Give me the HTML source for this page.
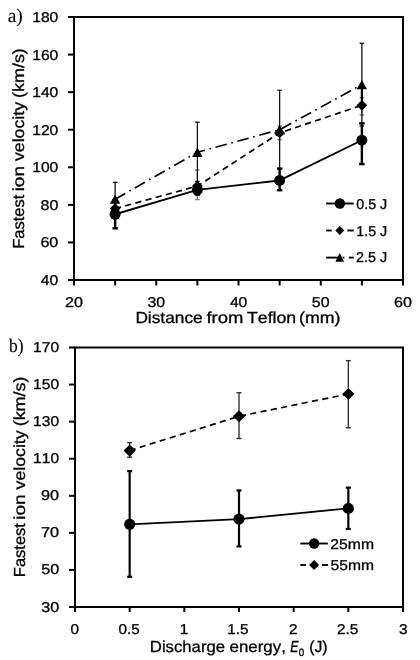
<!DOCTYPE html>
<html><head><meta charset="utf-8"><style>
html,body{margin:0;padding:0;background:#fff;}
svg{display:block;filter:grayscale(1);}
text{fill:#000;font-kerning:none;text-rendering:geometricPrecision;stroke:#000;stroke-width:0.3px;}
</style></head><body>
<svg width="420" height="660" viewBox="0 0 420 660">
<rect width="420" height="660" fill="#fff"/>
<rect x="74" y="17" width="329" height="263" fill="none" stroke="#000" stroke-width="2"/>
<line x1="68" y1="280" x2="74" y2="280" stroke="#000" stroke-width="2" />
<text transform="translate(40.84,285) scale(1.1063,1)" font-size="14.2" font-family="Liberation Sans, sans-serif" >40</text>
<line x1="68" y1="242.43" x2="74" y2="242.43" stroke="#000" stroke-width="2" />
<text transform="translate(40.38,247.43) scale(1.1364,1)" font-size="14.2" font-family="Liberation Sans, sans-serif" >60</text>
<line x1="68" y1="204.86" x2="74" y2="204.86" stroke="#000" stroke-width="2" />
<text transform="translate(40.5,209.86) scale(1.1284,1)" font-size="14.2" font-family="Liberation Sans, sans-serif" >80</text>
<line x1="68" y1="167.29" x2="74" y2="167.29" stroke="#000" stroke-width="2" />
<text transform="translate(32.21,172.29) scale(1.1018,1)" font-size="14.2" font-family="Liberation Sans, sans-serif" >100</text>
<line x1="68" y1="129.71" x2="74" y2="129.71" stroke="#000" stroke-width="2" />
<text transform="translate(32.21,134.71) scale(1.1018,1)" font-size="14.2" font-family="Liberation Sans, sans-serif" >120</text>
<line x1="68" y1="92.14" x2="74" y2="92.14" stroke="#000" stroke-width="2" />
<text transform="translate(32.21,97.14) scale(1.1018,1)" font-size="14.2" font-family="Liberation Sans, sans-serif" >140</text>
<line x1="68" y1="54.57" x2="74" y2="54.57" stroke="#000" stroke-width="2" />
<text transform="translate(32.21,59.57) scale(1.1018,1)" font-size="14.2" font-family="Liberation Sans, sans-serif" >160</text>
<line x1="68" y1="17" x2="74" y2="17" stroke="#000" stroke-width="2" />
<text transform="translate(32.21,22) scale(1.1018,1)" font-size="14.2" font-family="Liberation Sans, sans-serif" >180</text>
<line x1="74" y1="280" x2="74" y2="285.5" stroke="#000" stroke-width="2" />
<text transform="translate(64.94,306.8) scale(1.1359,1)" font-size="14.2" font-family="Liberation Sans, sans-serif" >20</text>
<line x1="115.12" y1="280" x2="115.12" y2="285.5" stroke="#000" stroke-width="2" />
<line x1="156.25" y1="280" x2="156.25" y2="285.5" stroke="#000" stroke-width="2" />
<text transform="translate(147.39,306.8) scale(1.1225,1)" font-size="14.2" font-family="Liberation Sans, sans-serif" >30</text>
<line x1="197.38" y1="280" x2="197.38" y2="285.5" stroke="#000" stroke-width="2" />
<line x1="238.5" y1="280" x2="238.5" y2="285.5" stroke="#000" stroke-width="2" />
<text transform="translate(229.89,306.8) scale(1.1063,1)" font-size="14.2" font-family="Liberation Sans, sans-serif" >40</text>
<line x1="279.62" y1="280" x2="279.62" y2="285.5" stroke="#000" stroke-width="2" />
<line x1="320.75" y1="280" x2="320.75" y2="285.5" stroke="#000" stroke-width="2" />
<text transform="translate(311.86,306.8) scale(1.1246,1)" font-size="14.2" font-family="Liberation Sans, sans-serif" >50</text>
<line x1="361.88" y1="280" x2="361.88" y2="285.5" stroke="#000" stroke-width="2" />
<line x1="403" y1="280" x2="403" y2="285.5" stroke="#000" stroke-width="2" />
<text transform="translate(393.93,306.8) scale(1.1364,1)" font-size="14.2" font-family="Liberation Sans, sans-serif" >60</text>
<line x1="115.12" y1="201.1" x2="115.12" y2="216.13" stroke="#777" stroke-width="1.3" />
<line x1="112.88" y1="201.1" x2="117.38" y2="201.1" stroke="#777" stroke-width="1.3" />
<line x1="112.88" y1="216.13" x2="117.38" y2="216.13" stroke="#777" stroke-width="1.3" />
<line x1="197.38" y1="169.92" x2="197.38" y2="199.6" stroke="#777" stroke-width="1.3" />
<line x1="195.12" y1="169.92" x2="199.62" y2="169.92" stroke="#777" stroke-width="1.3" />
<line x1="195.12" y1="199.6" x2="199.62" y2="199.6" stroke="#777" stroke-width="1.3" />
<line x1="279.62" y1="125.96" x2="279.62" y2="139.67" stroke="#777" stroke-width="1.3" />
<line x1="277.38" y1="125.96" x2="281.88" y2="125.96" stroke="#777" stroke-width="1.3" />
<line x1="277.38" y1="139.67" x2="281.88" y2="139.67" stroke="#777" stroke-width="1.3" />
<line x1="361.88" y1="97.78" x2="361.88" y2="115.06" stroke="#777" stroke-width="1.3" />
<line x1="359.62" y1="97.78" x2="364.12" y2="97.78" stroke="#777" stroke-width="1.3" />
<line x1="359.62" y1="115.06" x2="364.12" y2="115.06" stroke="#777" stroke-width="1.3" />
<line x1="115.12" y1="182.31" x2="115.12" y2="216.13" stroke="#111" stroke-width="1.3" />
<line x1="112.88" y1="182.31" x2="117.38" y2="182.31" stroke="#111" stroke-width="1.3" />
<line x1="112.88" y1="216.13" x2="117.38" y2="216.13" stroke="#111" stroke-width="1.3" />
<line x1="197.38" y1="122.2" x2="197.38" y2="181.38" stroke="#111" stroke-width="1.3" />
<line x1="195.12" y1="122.2" x2="199.62" y2="122.2" stroke="#111" stroke-width="1.3" />
<line x1="195.12" y1="181.38" x2="199.62" y2="181.38" stroke="#111" stroke-width="1.3" />
<line x1="279.62" y1="90.26" x2="279.62" y2="169.16" stroke="#111" stroke-width="1.3" />
<line x1="277.38" y1="90.26" x2="281.88" y2="90.26" stroke="#111" stroke-width="1.3" />
<line x1="277.38" y1="169.16" x2="281.88" y2="169.16" stroke="#111" stroke-width="1.3" />
<line x1="361.88" y1="43.3" x2="361.88" y2="125.96" stroke="#111" stroke-width="1.3" />
<line x1="359.62" y1="43.3" x2="364.12" y2="43.3" stroke="#111" stroke-width="1.3" />
<line x1="359.62" y1="125.96" x2="364.12" y2="125.96" stroke="#111" stroke-width="1.3" />
<line x1="361.88" y1="89" x2="361.88" y2="101" stroke="#000" stroke-width="2.2" />
<line x1="115.12" y1="200.16" x2="115.12" y2="228.34" stroke="#000" stroke-width="2.4" />
<line x1="112.38" y1="200.16" x2="117.88" y2="200.16" stroke="#000" stroke-width="2.4" />
<line x1="112.38" y1="228.34" x2="117.88" y2="228.34" stroke="#000" stroke-width="2.4" />
<line x1="197.38" y1="185.13" x2="197.38" y2="194.53" stroke="#000" stroke-width="2.4" />
<line x1="194.62" y1="185.13" x2="200.12" y2="185.13" stroke="#000" stroke-width="2.4" />
<line x1="194.62" y1="194.53" x2="200.12" y2="194.53" stroke="#000" stroke-width="2.4" />
<line x1="279.62" y1="168.6" x2="279.62" y2="190.2" stroke="#000" stroke-width="2.4" />
<line x1="276.88" y1="168.6" x2="282.38" y2="168.6" stroke="#000" stroke-width="2.4" />
<line x1="276.88" y1="190.2" x2="282.38" y2="190.2" stroke="#000" stroke-width="2.4" />
<line x1="361.88" y1="123.33" x2="361.88" y2="164.09" stroke="#000" stroke-width="2.4" />
<line x1="359.12" y1="123.33" x2="364.62" y2="123.33" stroke="#000" stroke-width="2.4" />
<line x1="359.12" y1="164.09" x2="364.62" y2="164.09" stroke="#000" stroke-width="2.4" />
<polyline points="115.12,199.22 197.38,152.26 279.62,129.71 361.88,84.63" fill="none" stroke="#000" stroke-width="1.7" stroke-dasharray="11.7 4.7 1.6 4.7" stroke-linejoin="round"/>
<polyline points="115.12,208.61 197.38,186.07 279.62,132.91 361.88,105.29" fill="none" stroke="#000" stroke-width="1.7" stroke-dasharray="6.2 4.3" stroke-linejoin="round"/>
<polyline points="115.12,214.25 197.38,189.83 279.62,180.44 361.88,140.23" fill="none" stroke="#000" stroke-width="1.9" stroke-linejoin="round"/>
<path d="M115.12 194.57L120.38 203.87L109.88 203.87Z" fill="#000"/>
<path d="M197.38 147.61L202.62 156.91L192.12 156.91Z" fill="#000"/>
<path d="M279.62 125.06L284.88 134.36L274.38 134.36Z" fill="#000"/>
<path d="M361.88 79.98L367.12 89.28L356.62 89.28Z" fill="#000"/>
<path d="M115.12 203.21L120.53 208.61L115.12 214.01L109.72 208.61Z" fill="#000"/>
<path d="M197.38 180.67L202.78 186.07L197.38 191.47L191.97 186.07Z" fill="#000"/>
<path d="M279.62 127.51L285.02 132.91L279.62 138.31L274.23 132.91Z" fill="#000"/>
<path d="M361.88 99.89L367.27 105.29L361.88 110.69L356.48 105.29Z" fill="#000"/>
<circle cx="115.12" cy="214.25" r="5.5" fill="#000"/>
<circle cx="197.38" cy="189.83" r="5.5" fill="#000"/>
<circle cx="279.62" cy="180.44" r="5.5" fill="#000"/>
<circle cx="361.88" cy="140.23" r="5.5" fill="#000"/>
<line x1="326.2" y1="203.5" x2="353.7" y2="203.5" stroke="#000" stroke-width="1.9" />
<circle cx="339.9" cy="203.5" r="5.2" fill="#000"/>
<line x1="326.2" y1="230.5" x2="331.7" y2="230.5" stroke="#000" stroke-width="1.9" />
<line x1="347.4" y1="230.5" x2="353.7" y2="230.5" stroke="#000" stroke-width="1.9" />
<path d="M339.8 226L344.3 230.5L339.8 235L335.3 230.5Z" fill="#000"/>
<line x1="326.2" y1="257.6" x2="338" y2="257.6" stroke="#000" stroke-width="1.9" />
<line x1="342.7" y1="257.6" x2="344.3" y2="257.6" stroke="#000" stroke-width="1.9" />
<line x1="348.9" y1="257.6" x2="353.7" y2="257.6" stroke="#000" stroke-width="1.9" />
<path d="M339.8 252.95L344.2 261.65L335.4 261.65Z" fill="#000"/>
<text transform="translate(356.24,208.8) scale(1.0077,1)" font-size="14.2" font-family="Liberation Sans, sans-serif" >0.5 J</text>
<text transform="translate(356.21,235.5) scale(1.0087,1)" font-size="14.2" font-family="Liberation Sans, sans-serif" >1.5 J</text>
<text transform="translate(356.08,262.3) scale(1.0132,1)" font-size="14.2" font-family="Liberation Sans, sans-serif" >2.5 J</text>
<text transform="translate(135.38,322.9) scale(1.0809,1)" font-size="16" font-family="Liberation Sans, sans-serif" >Distance</text>
<text transform="translate(206.44,322.9) scale(1.1524,1)" font-size="16" font-family="Liberation Sans, sans-serif" >from</text>
<text transform="translate(247,322.9) scale(1.1052,1)" font-size="16" font-family="Liberation Sans, sans-serif" >Teflon</text>
<text transform="translate(299.1,322.9) scale(1.1096,1)" font-size="16" font-family="Liberation Sans, sans-serif" >(mm)</text>
<text transform="translate(23.7,248.75) rotate(-90) scale(1.0307,1)" font-size="16" font-family="Liberation Sans, sans-serif">Fastest</text>
<text transform="translate(23.7,191.37) rotate(-90) scale(1.1849,1)" font-size="16" font-family="Liberation Sans, sans-serif">ion</text>
<text transform="translate(23.7,161.06) rotate(-90) scale(1.1077,1)" font-size="16" font-family="Liberation Sans, sans-serif">velocity</text>
<text transform="translate(23.7,97.91) rotate(-90) scale(1.1191,1)" font-size="16" font-family="Liberation Sans, sans-serif">(km/s)</text>
<text transform="translate(7.71,21.9) scale(0.9995,1)" font-size="19.5" font-family="Liberation Serif, serif" style="stroke-width:0.1px">a)</text>
<rect x="75" y="347.5" width="328" height="259.5" fill="none" stroke="#000" stroke-width="2"/>
<line x1="69" y1="607" x2="75" y2="607" stroke="#000" stroke-width="2" />
<text transform="translate(41.19,611.5) scale(1.1361,1)" font-size="14.2" font-family="Liberation Sans, sans-serif" >30</text>
<line x1="69" y1="569.93" x2="75" y2="569.93" stroke="#000" stroke-width="2" />
<text transform="translate(41.15,574.43) scale(1.1383,1)" font-size="14.2" font-family="Liberation Sans, sans-serif" >50</text>
<line x1="69" y1="532.86" x2="75" y2="532.86" stroke="#000" stroke-width="2" />
<text transform="translate(40.96,537.36) scale(1.1508,1)" font-size="14.2" font-family="Liberation Sans, sans-serif" >70</text>
<line x1="69" y1="495.79" x2="75" y2="495.79" stroke="#000" stroke-width="2" />
<text transform="translate(41.04,500.29) scale(1.1458,1)" font-size="14.2" font-family="Liberation Sans, sans-serif" >90</text>
<line x1="69" y1="458.71" x2="75" y2="458.71" stroke="#000" stroke-width="2" />
<text transform="translate(33.11,463.21) scale(1.0972,1)" font-size="14.2" font-family="Liberation Sans, sans-serif" >110</text>
<line x1="69" y1="421.64" x2="75" y2="421.64" stroke="#000" stroke-width="2" />
<text transform="translate(33.11,426.14) scale(1.0972,1)" font-size="14.2" font-family="Liberation Sans, sans-serif" >130</text>
<line x1="69" y1="384.57" x2="75" y2="384.57" stroke="#000" stroke-width="2" />
<text transform="translate(33.11,389.07) scale(1.0972,1)" font-size="14.2" font-family="Liberation Sans, sans-serif" >150</text>
<line x1="69" y1="347.5" x2="75" y2="347.5" stroke="#000" stroke-width="2" />
<text transform="translate(33.11,352) scale(1.0972,1)" font-size="14.2" font-family="Liberation Sans, sans-serif" >170</text>
<line x1="75" y1="607" x2="75" y2="612" stroke="#000" stroke-width="2" />
<text transform="translate(70.54,633.8) scale(1.0800,1)" font-size="14.2" font-family="Liberation Sans, sans-serif" >0</text>
<line x1="129.67" y1="607" x2="129.67" y2="612" stroke="#000" stroke-width="2" />
<text transform="translate(118.46,633.8) scale(1.0800,1)" font-size="14.2" font-family="Liberation Sans, sans-serif" >0.5</text>
<line x1="184.33" y1="607" x2="184.33" y2="612" stroke="#000" stroke-width="2" />
<text transform="translate(179.83,633.8) scale(1.0800,1)" font-size="14.2" font-family="Liberation Sans, sans-serif" >1</text>
<line x1="239" y1="607" x2="239" y2="612" stroke="#000" stroke-width="2" />
<text transform="translate(227.18,633.8) scale(1.0800,1)" font-size="14.2" font-family="Liberation Sans, sans-serif" >1.5</text>
<line x1="293.67" y1="607" x2="293.67" y2="612" stroke="#000" stroke-width="2" />
<text transform="translate(289.04,633.8) scale(1.0800,1)" font-size="14.2" font-family="Liberation Sans, sans-serif" >2</text>
<line x1="348.33" y1="607" x2="348.33" y2="612" stroke="#000" stroke-width="2" />
<text transform="translate(337.08,633.8) scale(1.0800,1)" font-size="14.2" font-family="Liberation Sans, sans-serif" >2.5</text>
<line x1="403" y1="607" x2="403" y2="612" stroke="#000" stroke-width="2" />
<text transform="translate(399.08,633.8) scale(1.0800,1)" font-size="14.2" font-family="Liberation Sans, sans-serif" >3</text>
<line x1="129.67" y1="442.59" x2="129.67" y2="457.23" stroke="#333" stroke-width="1.4" />
<line x1="127.17" y1="442.59" x2="132.17" y2="442.59" stroke="#333" stroke-width="1.4" />
<line x1="127.17" y1="457.23" x2="132.17" y2="457.23" stroke="#333" stroke-width="1.4" />
<line x1="239" y1="392.73" x2="239" y2="438.51" stroke="#333" stroke-width="1.4" />
<line x1="236.5" y1="392.73" x2="241.5" y2="392.73" stroke="#333" stroke-width="1.4" />
<line x1="236.5" y1="438.51" x2="241.5" y2="438.51" stroke="#333" stroke-width="1.4" />
<line x1="348.33" y1="360.66" x2="348.33" y2="427.76" stroke="#333" stroke-width="1.4" />
<line x1="345.83" y1="360.66" x2="350.83" y2="360.66" stroke="#333" stroke-width="1.4" />
<line x1="345.83" y1="427.76" x2="350.83" y2="427.76" stroke="#333" stroke-width="1.4" />
<line x1="129.67" y1="471.13" x2="129.67" y2="576.79" stroke="#000" stroke-width="2.2" />
<line x1="127.17" y1="471.13" x2="132.17" y2="471.13" stroke="#000" stroke-width="2.2" />
<line x1="127.17" y1="576.79" x2="132.17" y2="576.79" stroke="#000" stroke-width="2.2" />
<line x1="239" y1="490.41" x2="239" y2="546.39" stroke="#000" stroke-width="2.2" />
<line x1="236.5" y1="490.41" x2="241.5" y2="490.41" stroke="#000" stroke-width="2.2" />
<line x1="236.5" y1="546.39" x2="241.5" y2="546.39" stroke="#000" stroke-width="2.2" />
<line x1="348.33" y1="487.63" x2="348.33" y2="528.96" stroke="#000" stroke-width="2.2" />
<line x1="345.83" y1="487.63" x2="350.83" y2="487.63" stroke="#000" stroke-width="2.2" />
<line x1="345.83" y1="528.96" x2="350.83" y2="528.96" stroke="#000" stroke-width="2.2" />
<polyline points="129.67,450.56 239,416.27 348.33,394.02" fill="none" stroke="#000" stroke-width="1.7" stroke-dasharray="6.2 4.3" stroke-linejoin="round"/>
<polyline points="129.67,524.33 239,519.14 348.33,508.39" fill="none" stroke="#000" stroke-width="1.9" stroke-linejoin="round"/>
<path d="M129.67 444.46L135.77 450.56L129.67 456.66L123.57 450.56Z" fill="#000"/>
<path d="M239 410.17L245.1 416.27L239 422.37L232.9 416.27Z" fill="#000"/>
<path d="M348.33 387.92L354.43 394.02L348.33 400.12L342.23 394.02Z" fill="#000"/>
<circle cx="129.67" cy="524.33" r="5.6" fill="#000"/>
<circle cx="239" cy="519.14" r="5.6" fill="#000"/>
<circle cx="348.33" cy="508.39" r="5.6" fill="#000"/>
<line x1="300.3" y1="543.5" x2="327.9" y2="543.5" stroke="#000" stroke-width="1.9" />
<circle cx="314.1" cy="543.5" r="5.2" fill="#000"/>
<line x1="300.3" y1="565" x2="306" y2="565" stroke="#000" stroke-width="1.9" />
<line x1="321.9" y1="565" x2="327.9" y2="565" stroke="#000" stroke-width="1.9" />
<path d="M314.1 560L319.1 565L314.1 570L309.1 565Z" fill="#000"/>
<text transform="translate(330.31,548.5) scale(1.1084,1)" font-size="14.2" font-family="Liberation Sans, sans-serif" >25mm</text>
<text transform="translate(330.47,569.7) scale(1.1042,1)" font-size="14.2" font-family="Liberation Sans, sans-serif" >55mm</text>
<text transform="translate(149.83,652) scale(1.0442,1)" font-size="16" font-family="Liberation Sans, sans-serif" >Discharge</text>
<text transform="translate(229.58,652) scale(1.0537,1)" font-size="16" font-family="Liberation Sans, sans-serif" >energy,</text>
<text transform="translate(290.22,652) scale(0.7746,1)" font-size="16" font-family="Liberation Sans, sans-serif" font-style="italic">E</text>
<text transform="translate(298.82,655.6) scale(0.9104,1)" font-size="10.8" font-family="Liberation Sans, sans-serif" >0</text>
<text transform="translate(309.22,652) scale(0.9837,1)" font-size="16" font-family="Liberation Sans, sans-serif" >(J)</text>
<text transform="translate(25,577.15) rotate(-90) scale(1.0307,1)" font-size="16" font-family="Liberation Sans, sans-serif">Fastest</text>
<text transform="translate(25,519.77) rotate(-90) scale(1.1849,1)" font-size="16" font-family="Liberation Sans, sans-serif">ion</text>
<text transform="translate(25,489.46) rotate(-90) scale(1.1077,1)" font-size="16" font-family="Liberation Sans, sans-serif">velocity</text>
<text transform="translate(25,426.31) rotate(-90) scale(1.1191,1)" font-size="16" font-family="Liberation Sans, sans-serif">(km/s)</text>
<text transform="translate(9,351.7) scale(0.8969,1)" font-size="19.5" font-family="Liberation Serif, serif" style="stroke-width:0.1px">b)</text>
</svg>
</body></html>
